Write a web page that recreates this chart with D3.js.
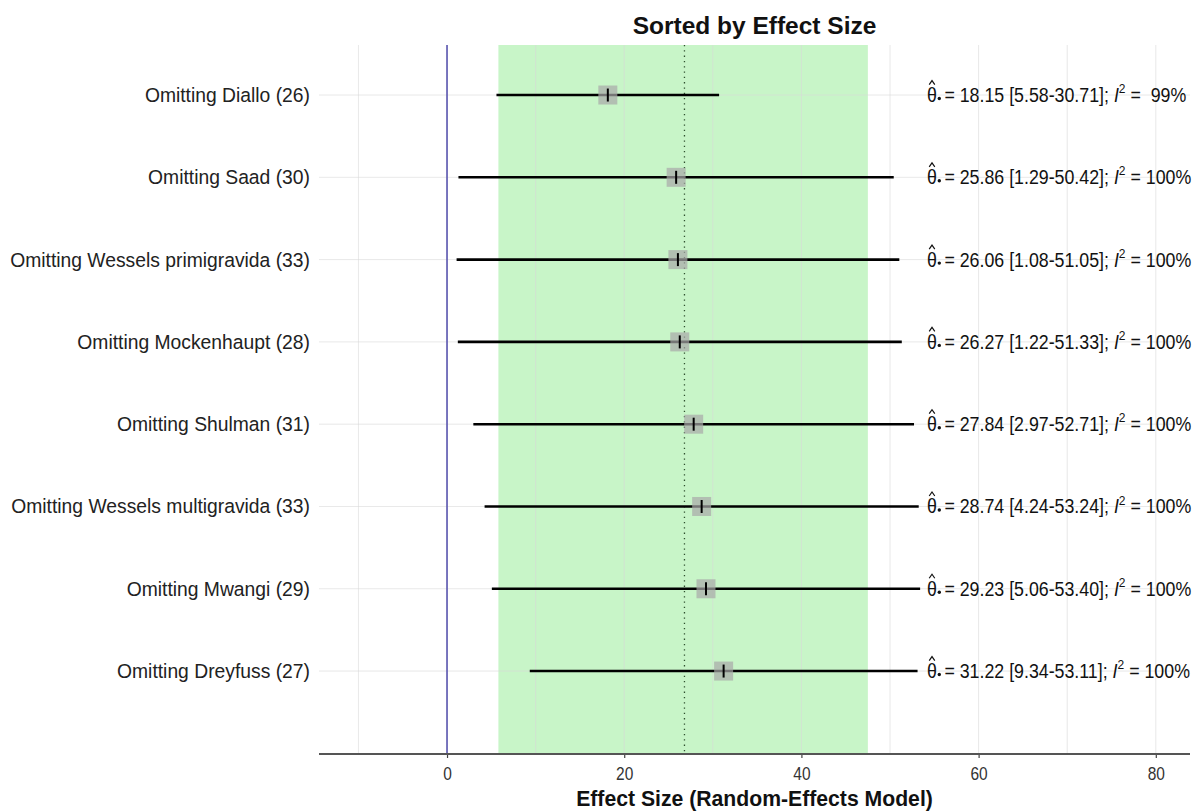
<!DOCTYPE html>
<html><head><meta charset="utf-8">
<script src="https://cdn.jsdelivr.net/npm/d3@7"></script>
<style>body{margin:0;background:#fff;} text{font-family:"Liberation Sans",Arial,sans-serif;}</style>
</head><body><svg id="c" width="1203" height="812"></svg>
<script>
const studies = ["Omitting Diallo (26)","Omitting Saad (30)","Omitting Wessels primigravida (33)","Omitting Mockenhaupt (28)","Omitting Shulman (31)","Omitting Wessels multigravida (33)","Omitting Mwangi (29)","Omitting Dreyfuss (27)"];
const estimates = [18.15,25.86,26.06,26.27,27.84,28.74,29.23,31.22];
const lowers = [5.58,1.29,1.08,1.22,2.97,4.24,5.06,9.34];
const uppers = [30.71,50.42,51.05,51.33,52.71,53.24,53.40,53.11];
const i2 = ["99%","100%","100%","100%","100%","100%","100%","100%"];
const xTicks = [0,20,40,60,80];
const xGrid = [-10,0,10,20,30,40,50,60,70,80];
const bandRange = [5.8,47.5];
const overall = 26.8;
const nullValue = 0;

const svg = d3.select("#c");
const L=319, R=1190, T=45, B=754;
const x = d3.scaleLinear().domain([-14.45,83.86]).range([L,R]);
const y = d3.scaleLinear().domain([0.392,9.008]).range([T,B]);
const rowY = i => y(i+1);

svg.append("rect").attr("x",x(bandRange[0])).attr("y",T).attr("width",x(bandRange[1])-x(bandRange[0])).attr("height",B-T).attr("fill","#c8f5c8");
svg.selectAll(".vg").data(xGrid).join("line").attr("x1",d=>x(d)).attr("x2",d=>x(d)).attr("y1",T).attr("y2",B).attr("stroke","#d8d8d8").attr("stroke-opacity",0.6).attr("stroke-width",1);
svg.selectAll(".hg").data(studies).join("line").attr("x1",L).attr("x2",R).attr("y1",(d,i)=>rowY(i)).attr("y2",(d,i)=>rowY(i)).attr("stroke","#d8d8d8").attr("stroke-opacity",0.6).attr("stroke-width",1);
svg.append("line").attr("x1",x(nullValue)).attr("x2",x(nullValue)).attr("y1",T).attr("y2",B).attr("stroke","#5a55b0").attr("stroke-width",1.6);
svg.append("line").attr("x1",x(overall)).attr("x2",x(overall)).attr("y1",T).attr("y2",B).attr("stroke","#2f4f2f").attr("stroke-width",1.3).attr("stroke-dasharray","1.3,4");
svg.selectAll(".ci").data(studies).join("line").attr("x1",(d,i)=>x(lowers[i])).attr("x2",(d,i)=>x(uppers[i])).attr("y1",(d,i)=>rowY(i)).attr("y2",(d,i)=>rowY(i)).attr("stroke","#000").attr("stroke-width",2.6);
svg.selectAll(".sq").data(studies).join("rect").attr("x",(d,i)=>x(estimates[i])-9.5).attr("y",(d,i)=>rowY(i)-9.5).attr("width",19).attr("height",19).attr("fill","#a8a8a8").attr("fill-opacity",0.7);
svg.selectAll(".tk").data(studies).join("line").attr("x1",(d,i)=>x(estimates[i])).attr("x2",(d,i)=>x(estimates[i])).attr("y1",(d,i)=>rowY(i)-6.5).attr("y2",(d,i)=>rowY(i)+6.5).attr("stroke","#000").attr("stroke-width",2);

// labels
svg.selectAll(".lb").data(studies).join("text")
  .attr("transform",(d,i)=>`translate(310,${rowY(i)+7}) scale(1,1.08)`)
  .attr("text-anchor","end").attr("font-size",19.3).attr("fill","#222").text(d=>d);

// annotations
studies.forEach((s,i)=>{
  const by = rowY(i)+7;
  const g = svg.append("g").attr("transform",`translate(927,${by})`);
  g.append("path").attr("d","M2.2,-17.5 L5,-21.5 L7.8,-17.5").attr("fill","none").attr("stroke","#111").attr("stroke-width",1.2);
  g.append("circle").attr("cx",12.3).attr("cy",-3.5).attr("r",1.7).attr("fill","#111");
  const t = g.append("text").attr("transform","scale(1,1.12)").attr("font-size",17.8).attr("fill","#111").attr("xml:space","preserve");
  t.append("tspan").text("θ");
  t.append("tspan").attr("dx",7.5).text(`= ${estimates[i].toFixed(2)} [${lowers[i].toFixed(2)}-${uppers[i].toFixed(2)}]; `);
  t.append("tspan").attr("font-style","italic").text("I");
  t.append("tspan").attr("font-size",12).attr("dy",-8).text("2");
  t.append("tspan").attr("dy",8).text(i2[i]==="99%"?" =  99%":" = 100%");
});

// axis
const ax = svg.append("g").attr("transform",`translate(0,${B})`).call(d3.axisBottom(x).tickValues(xTicks).tickSize(4).tickPadding(6).tickFormat(d3.format("d")));
ax.select(".domain").remove();
ax.selectAll(".tick line").attr("stroke","#444").attr("stroke-width",1.2);
ax.selectAll(".tick text").attr("font-size",15.5).attr("fill","#333").attr("dy",null).attr("y",null)
  .attr("transform","translate(0,26) scale(1,1.2)");
svg.append("line").attr("x1",L).attr("x2",R).attr("y1",B).attr("y2",B).attr("stroke","#555").attr("stroke-width",2.2);

svg.append("text").attr("x",(L+R)/2).attr("y",34).attr("text-anchor","middle").attr("font-size",24.5).attr("font-weight","bold").attr("fill","#111").text("Sorted by Effect Size");
svg.append("text").attr("x",(L+R)/2).attr("y",806).attr("text-anchor","middle").attr("font-size",21.2).attr("font-weight","bold").attr("fill","#111").text("Effect Size (Random-Effects Model)");
</script></body></html>
